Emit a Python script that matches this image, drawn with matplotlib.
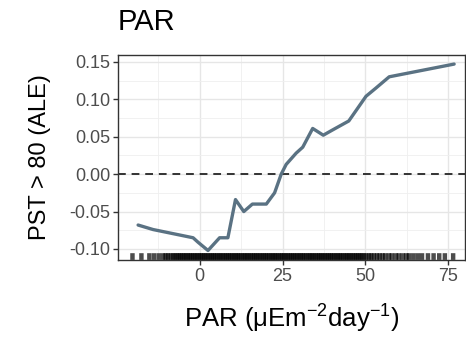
import numpy as np
import matplotlib
matplotlib.use("Agg")
import matplotlib.pyplot as plt
from matplotlib.ticker import MultipleLocator, FormatStrFormatter

plt.rcParams['font.family'] = ['Liberation Sans', 'DejaVu Sans']
plt.rcParams['mathtext.fontset'] = 'custom'
plt.rcParams['mathtext.rm'] = 'Liberation Sans'
plt.rcParams['mathtext.it'] = 'Liberation Sans:italic'

# ALE curve
par = [-18.6, -14.1, -2.0, -0.5, 2.5, 6.0, 8.5, 10.8, 13.3, 15.9, 20.1, 22.6,
       24.6, 26.1, 29.1, 31.1, 34.1, 37.3, 40.1, 45.0, 50.2, 53.2, 57.2, 76.8]
ale = [-0.068, -0.074, -0.085, -0.091, -0.102, -0.085, -0.085, -0.034, -0.050,
       -0.040, -0.040, -0.025, 0.000, 0.013, 0.028, 0.036, 0.061, 0.052, 0.059,
       0.071, 0.104, 0.115, 0.130, 0.147]

# observed PAR values (rug), approximate
rug = [-20.3, -17.6, -15.2, -13.8, -12.4, -11.1, -10.3, -9.6, -8.8, -8.1,
       -7.5, -6.9, -6.3, -5.8, -5.2, -4.7, -4.1, -3.6, -3.0, -2.5, -1.9, -1.4,
       -0.8, -0.3, 0.3, 0.8, 1.4, 1.9, 2.5, 3.1, 3.6, 4.2, 4.7, 5.3, 5.9, 6.4,
       7.0, 7.6, 8.1, 8.7, 9.2, 9.8, 10.4, 10.9, 11.5, 12.0, 12.6, 13.2, 13.7,
       14.3, 14.8, 15.4, 16.0, 16.5, 17.1, 17.6, 18.2, 18.8, 19.3, 19.9, 20.4,
       21.0, 21.6, 22.1, 22.7, 23.2, 23.8, 24.4, 24.9, 25.5, 26.0, 26.6, 27.2,
       27.7, 28.3, 28.8, 29.4, 30.0, 30.5, 31.1, 31.6, 32.2, 32.8, 33.3, 33.9,
       34.4, 35.0, 35.6, 36.1, 36.7, 37.2, 37.8, 38.4, 38.9, 39.5, 40.0, 40.6,
       41.2, 41.7, 42.3, 42.8, 43.4, 44.0, 44.5, 45.1, 45.6, 46.2, 46.8, 47.3,
       47.9, 48.4, 49.0, 49.6, 50.3, 51.1, 51.8, 52.6, 53.5, 54.3, 55.2, 56.0,
       57.1, 58.0, 59.2, 60.1, 61.3, 62.4, 63.2, 64.5, 65.8, 67.1, 68.9, 70.6,
       72.3, 74.0, 76.5]

fig = plt.figure(figsize=(4.66, 3.38), dpi=100)
ax = fig.add_axes([0.253, 0.231, 0.745, 0.606])

ax.set_xlim(-24.7, 80.1)
ax.set_ylim(-0.1146, 0.159)

ax.xaxis.set_major_locator(MultipleLocator(25))
ax.xaxis.set_minor_locator(MultipleLocator(12.5))
ax.yaxis.set_major_locator(MultipleLocator(0.05))
ax.yaxis.set_minor_locator(MultipleLocator(0.025))
ax.yaxis.set_major_formatter(FormatStrFormatter('%.2f'))
ax.grid(True, which='major', color='#e6e6e6', lw=1.0)
ax.grid(True, which='minor', color='#efefef', lw=0.6)
ax.set_axisbelow(True)
ax.tick_params(which='minor', length=0)
ax.tick_params(which='major', length=3.5, width=1, color='#333333',
               labelsize=13, labelcolor='#4d4d4d', pad=2)

for s in ax.spines.values():
    s.set_color('#333333')
    s.set_linewidth(1.0)

ax.axhline(0, color='#333333', lw=1.4, ls=(0, (4, 3)))
ax.plot(par, ale, color='#5a7283', lw=2.4, solid_capstyle='round', zorder=3)

# rug along the bottom
ymin = ax.get_ylim()[0]
ax.vlines(rug, ymin, ymin + 0.009, color='black', lw=3.2, alpha=0.7,
          snap=False, zorder=2)

ax.set_title('PAR', loc='left', fontsize=21, pad=18, x=0.0)
ax.set_xlabel('PAR (μEm$^{-2}$day$^{-1}$)', fontsize=18.5, labelpad=13)
ax.set_ylabel('PST > 80 (ALE)', fontsize=17, labelpad=13)

fig.savefig('out.png', dpi=100)
